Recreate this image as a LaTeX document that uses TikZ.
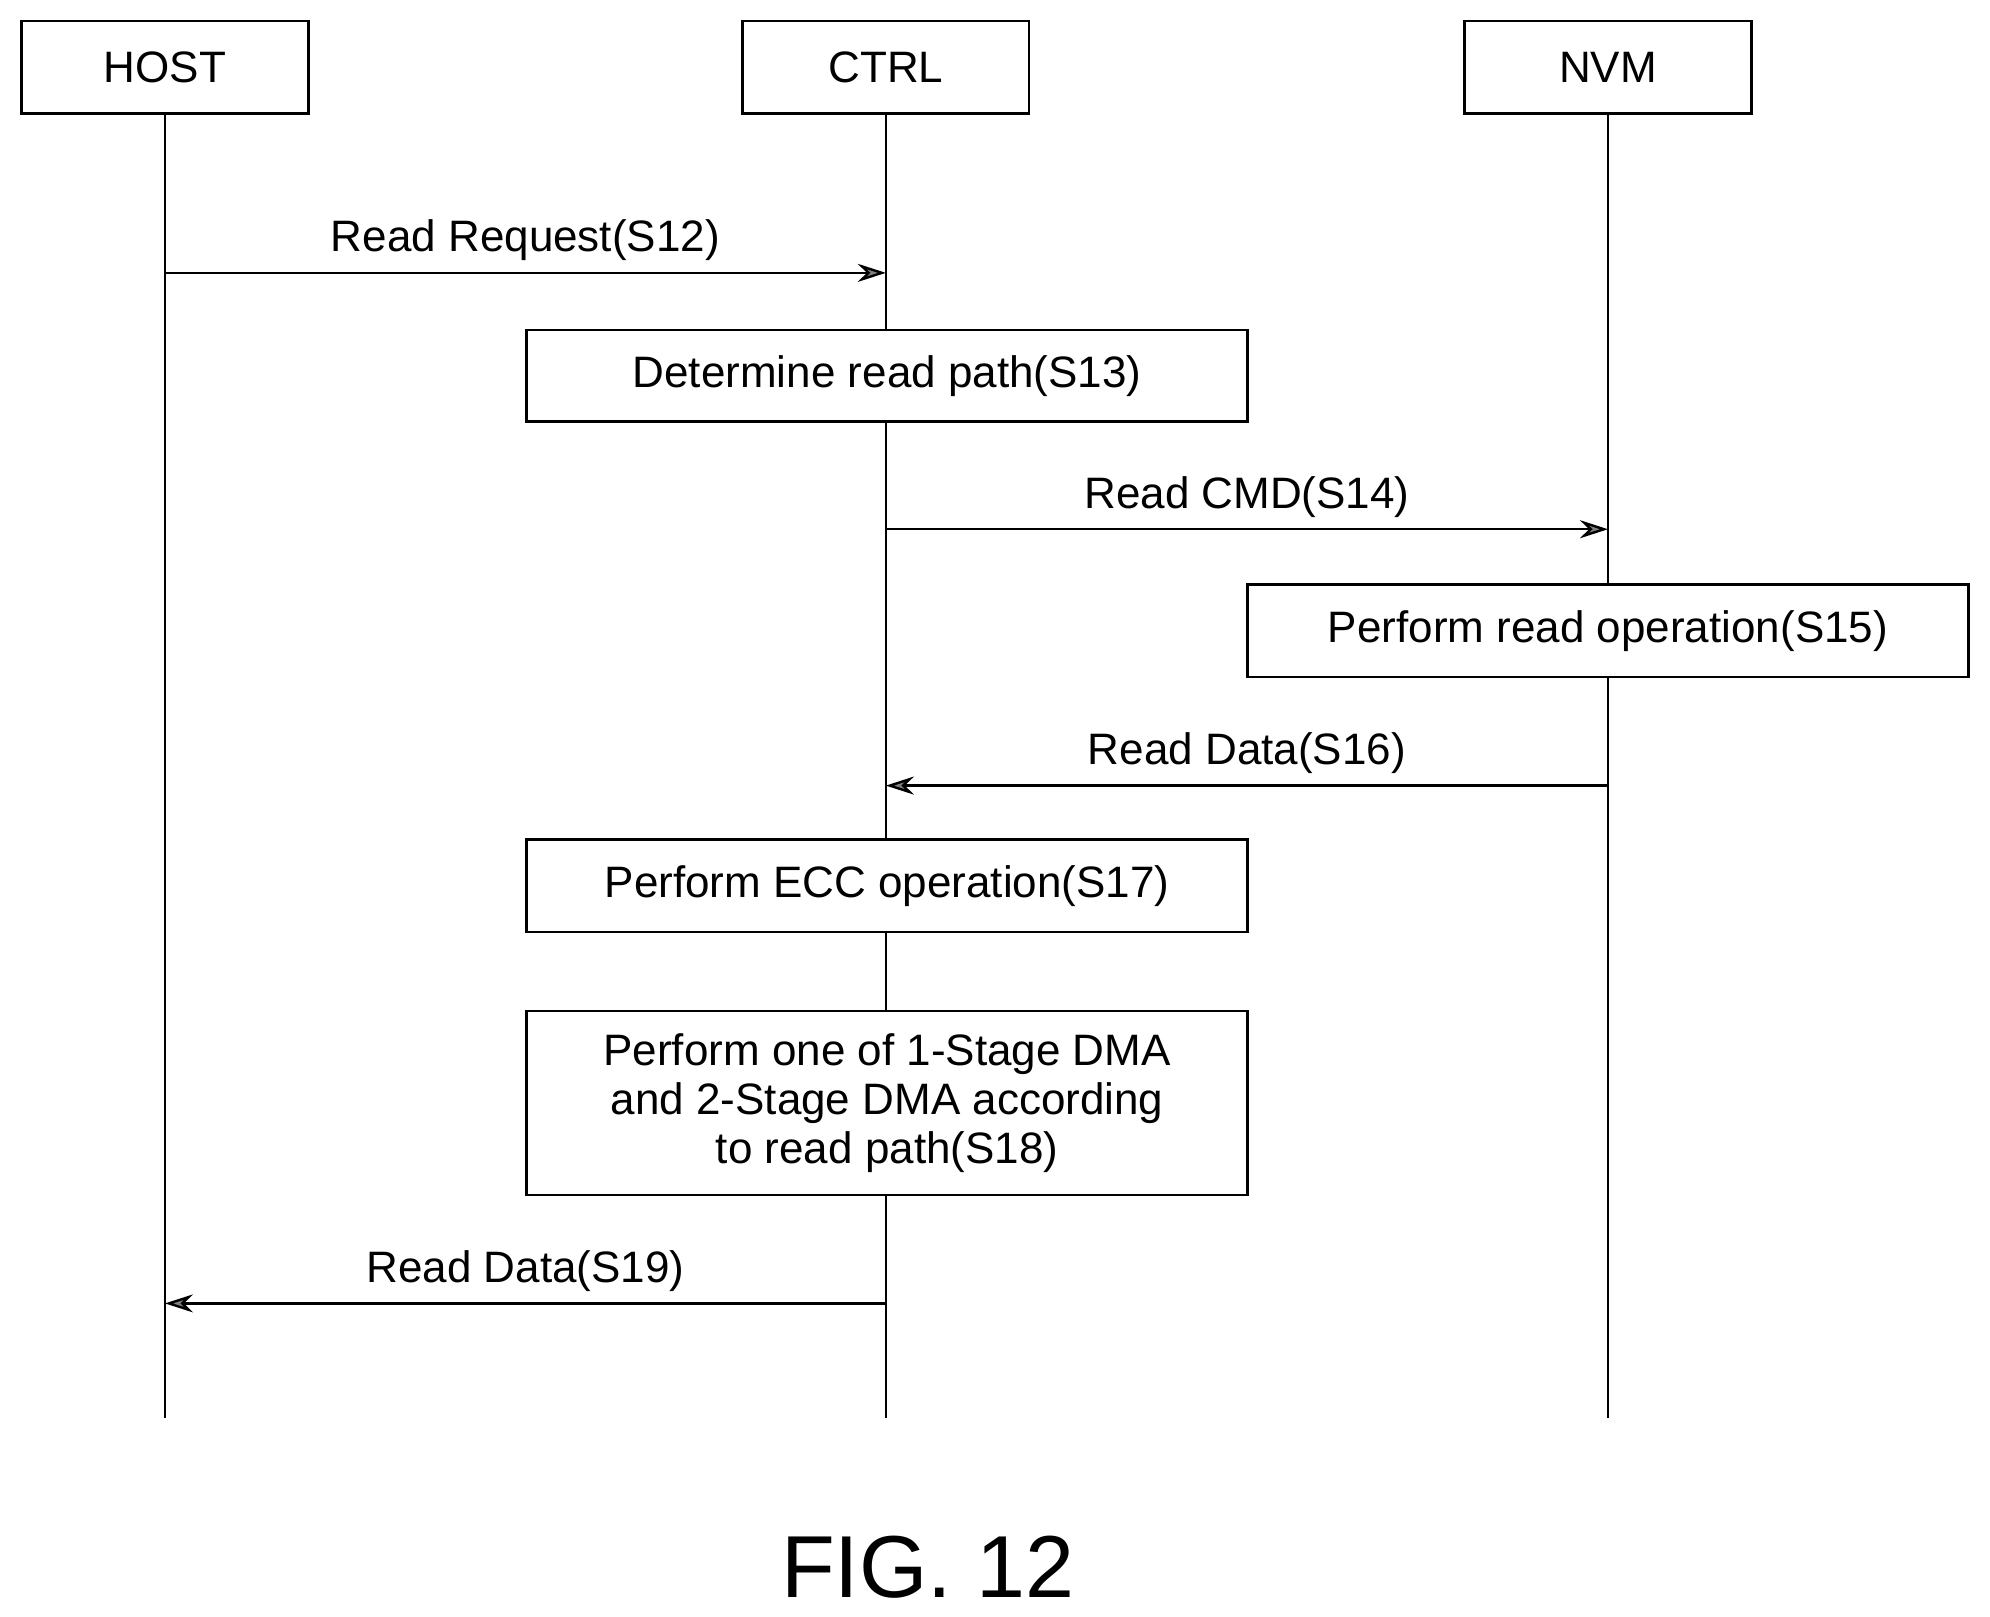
\documentclass[tikz,border=0pt]{standalone}
\usepackage{fontspec}
\setmainfont{Liberation Sans}
\usetikzlibrary{arrows.meta}
\begin{document}
\begin{tikzpicture}[x=0.6345pt,y=-0.6345pt,
  ent/.style={draw,line width=1.2pt,minimum width=226*0.6345pt,minimum height=73*0.6345pt,font=\fontsize{22}{26}\selectfont},
  act/.style={draw,line width=1.2pt,minimum width=568*0.6345pt,font=\fontsize{22}{26}\selectfont,align=center},
  life/.style={line width=1.2pt},
  msg/.style={line width=1.2pt,-{Stealth[length=14pt,width=9pt,fill=gray]}},
  lbl/.style={font=\fontsize{22}{26}\selectfont}]
\useasboundingbox (0,0) rectangle (1568,1274);
\node[ent] (host) at (130,53) {HOST};
\node[ent] (ctrl) at (698,53) {CTRL};
\node[ent] (nvm) at (1267,53) {NVM};
\coordinate (hb) at (130,1117);
\coordinate (cb) at (698,1117);
\coordinate (nb) at (1267,1117);
\draw[life] (host.south) -- (hb);
\draw[life] (ctrl.south) -- (cb);
\draw[life] (nvm.south) -- (nb);
\coordinate (h1) at (130,215); \coordinate (c1) at (698,215);
\draw[msg] (h1) -- node[lbl,above=2pt] {Read Request(S12)} (c1);
\node[act,fill=white,minimum height=72*0.6345pt] (s13) at (699,296) {Determine read path(S13)};
\coordinate (c2) at (698,417); \coordinate (n2) at (1267,417);
\draw[msg] (c2) -- node[lbl,above=2pt] {Read CMD(S14)} (n2);
\node[act,fill=white,minimum height=73*0.6345pt] (s15) at (1267,497) {Perform read operation(S15)};
\coordinate (n3) at (1267,619); \coordinate (c3) at (698,619);
\draw[msg] (n3) -- node[lbl,above=2pt] {Read Data(S16)} (c3);
\node[act,fill=white,minimum height=73*0.6345pt] (s17) at (699,698) {Perform ECC operation(S17)};
\node[act,fill=white,minimum height=145*0.6345pt,font=\fontsize{22}{24.5}\selectfont] (s18) at (699,869) {Perform one of 1-Stage DMA\\and 2-Stage DMA according\\to read path(S18)};
\coordinate (c4) at (698,1027); \coordinate (h4) at (130,1027);
\draw[msg] (c4) -- node[lbl,above=2pt] {Read Data(S19)} (h4);
\node[font=\fontsize{44}{50}\selectfont] (fig) at (731,1235) {FIG. 12};
\end{tikzpicture}
\end{document}
